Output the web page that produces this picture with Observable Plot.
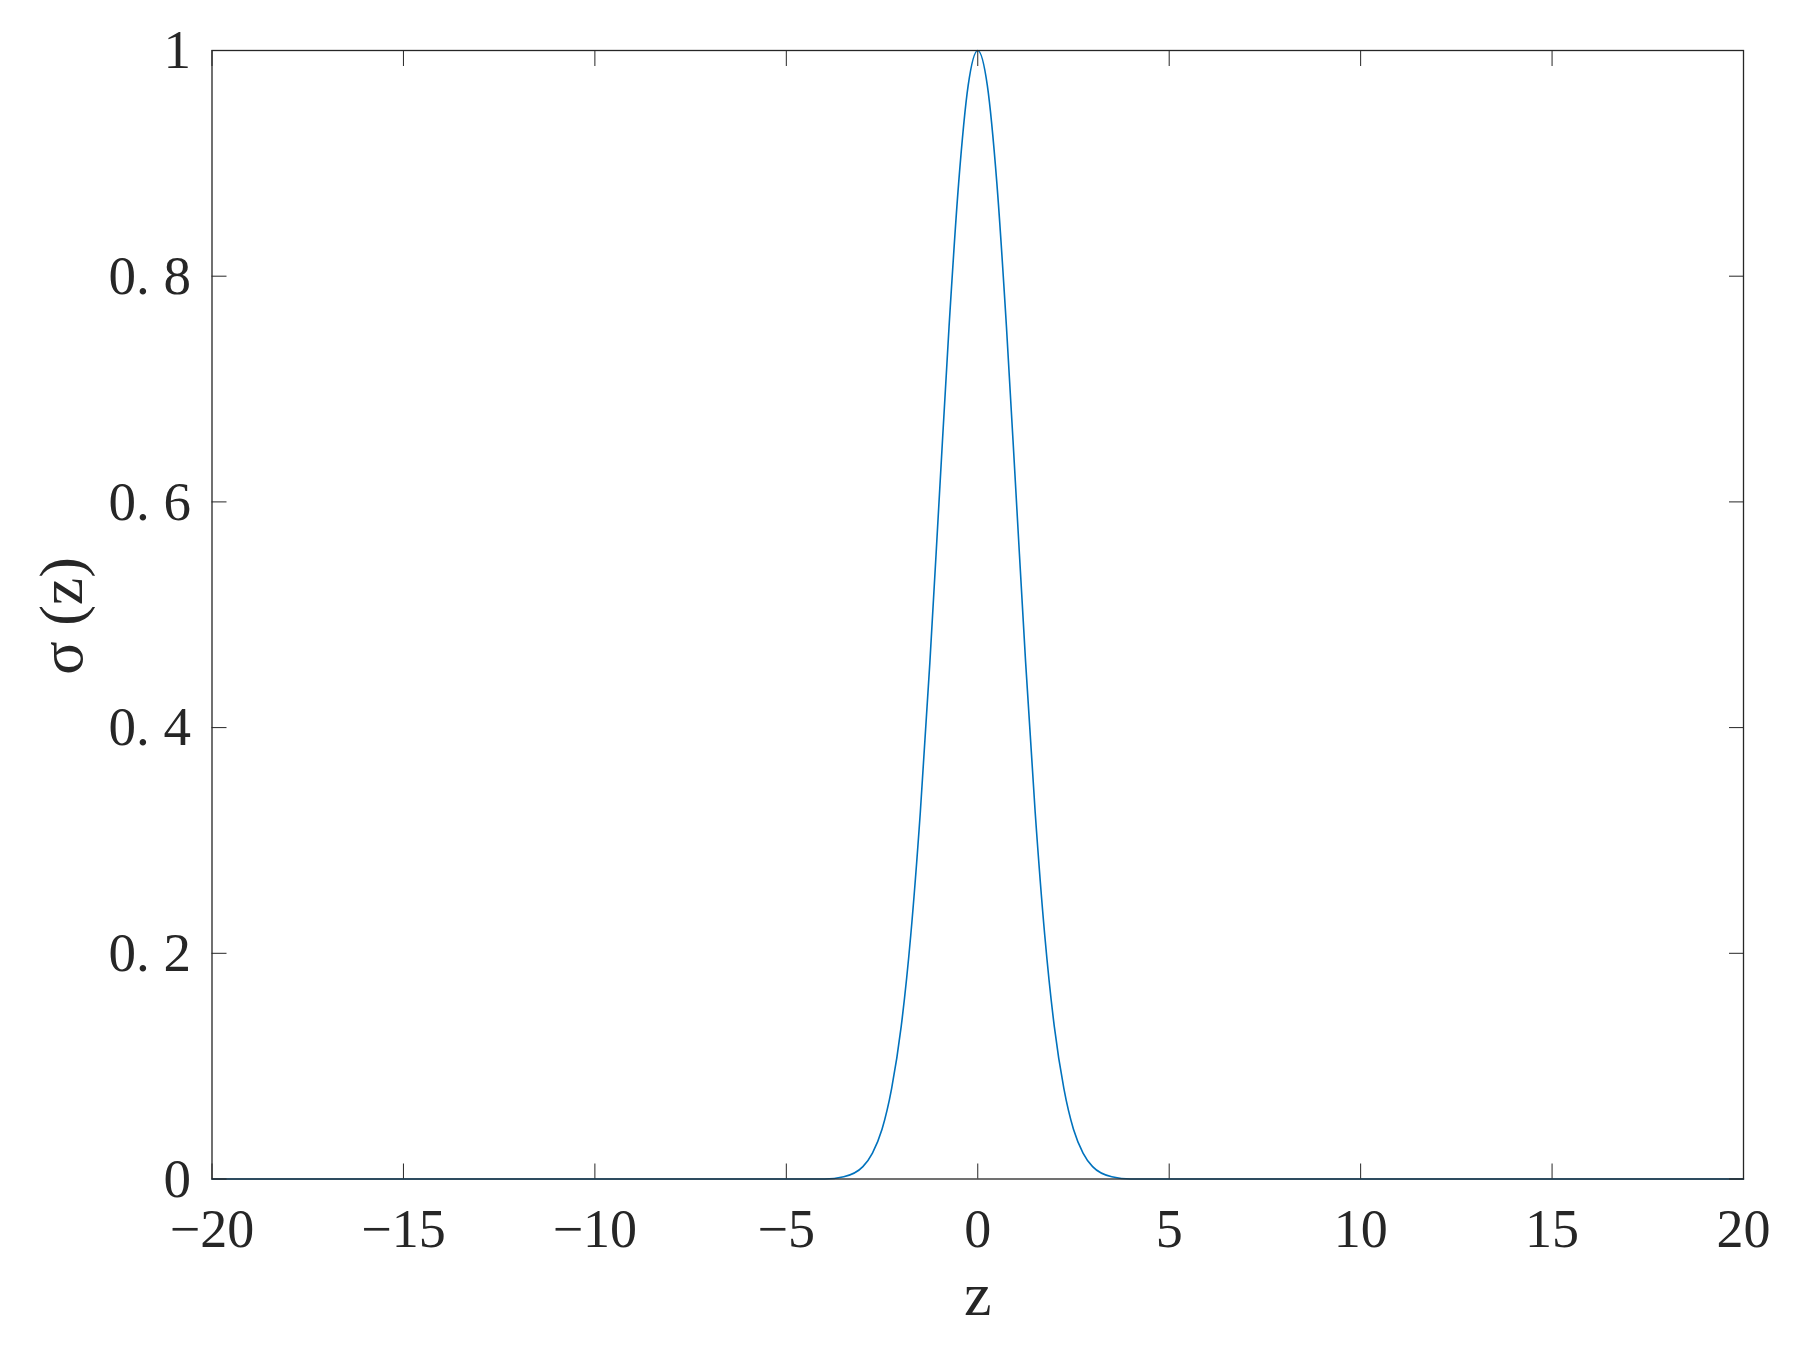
<!DOCTYPE html>
<html><head><meta charset="utf-8">
<script src="https://cdn.jsdelivr.net/npm/d3@7"></script>
<script src="https://cdn.jsdelivr.net/npm/@observablehq/plot@0.6"></script>
<style>body{margin:0;background:#fff;}</style>
</head><body><div id="chart"></div>
<script>
const zValues = [-20, -5, -4, -3.5, -3, -2.75, -2.5, -2.25, -2, -1.75, -1.5, -1.25, -1, -0.75, -0.5, -0.25, 0, 0.25, 0.5, 0.75, 1, 1.25, 1.5, 1.75, 2, 2.25, 2.5, 2.75, 3, 3.5, 4, 5, 20];
const sigmaValues = [0, 0, 0, 0.002, 0.011, 0.023, 0.044, 0.080, 0.135, 0.216, 0.325, 0.458, 0.607, 0.755, 0.882, 0.969, 1.0, 0.969, 0.882, 0.755, 0.607, 0.458, 0.325, 0.216, 0.135, 0.080, 0.044, 0.023, 0.011, 0.002, 0, 0, 0];
const xTicks = [-20, -15, -10, -5, 0, 5, 10, 15, 20];
const xTickLabels = ["−20", "−15", "−10", "−5", "0", "5", "10", "15", "20"];
const yTicks = [0, 0.2, 0.4, 0.6, 0.8, 1];
const yTickLabels = ["0", "0. 2", "0. 4", "0. 6", "0. 8", "1"];
const xLabel = "z";
const yLabel = "σ (z)";

const data = zValues.map((z, i) => ({z, s: sigmaValues[i]}));
const ink = "#262626";

const chart = Plot.plot({
  width: 1810, height: 1346,
  marginLeft: 211.5, marginRight: 67, marginTop: 50, marginBottom: 167.5,
  style: {fontFamily: "'Liberation Serif', 'DejaVu Serif', serif", background: "#fff", color: ink},
  x: {domain: [-20, 20]},
  y: {domain: [0, 1]},
  marks: [
    Plot.line(data, {x: "z", y: "s", stroke: "#0072BD", strokeWidth: 1.6, curve: "monotone-x"}),
    Plot.frame({stroke: ink, strokeWidth: 1.3}),
    Plot.axisX({anchor: "bottom", ticks: xTicks, tickFormat: d => xTickLabels[xTicks.indexOf(d)], tickSize: -15, tickPadding: 45, fontSize: 54, label: null}),
    Plot.axisX({anchor: "top", ticks: xTicks, tickFormat: () => "", tickSize: -15, label: null}),
    Plot.axisY({anchor: "left", ticks: yTicks, tickFormat: d => yTickLabels[yTicks.indexOf(d)], tickSize: -15, tickPadding: 36, fontSize: 55, label: null}),
    Plot.axisY({anchor: "right", ticks: yTicks, tickFormat: () => "", tickSize: -15, label: null}),
    Plot.text([xLabel], {text: d => d, frameAnchor: "bottom", dy: 136, fontSize: 62, fill: ink}),
    Plot.text([yLabel], {text: d => d, frameAnchor: "left", rotate: -90, dx: -150, dy: 60, fontSize: 62, fill: ink})
  ]
});
document.getElementById("chart").appendChild(chart);
</script>
</body></html>
